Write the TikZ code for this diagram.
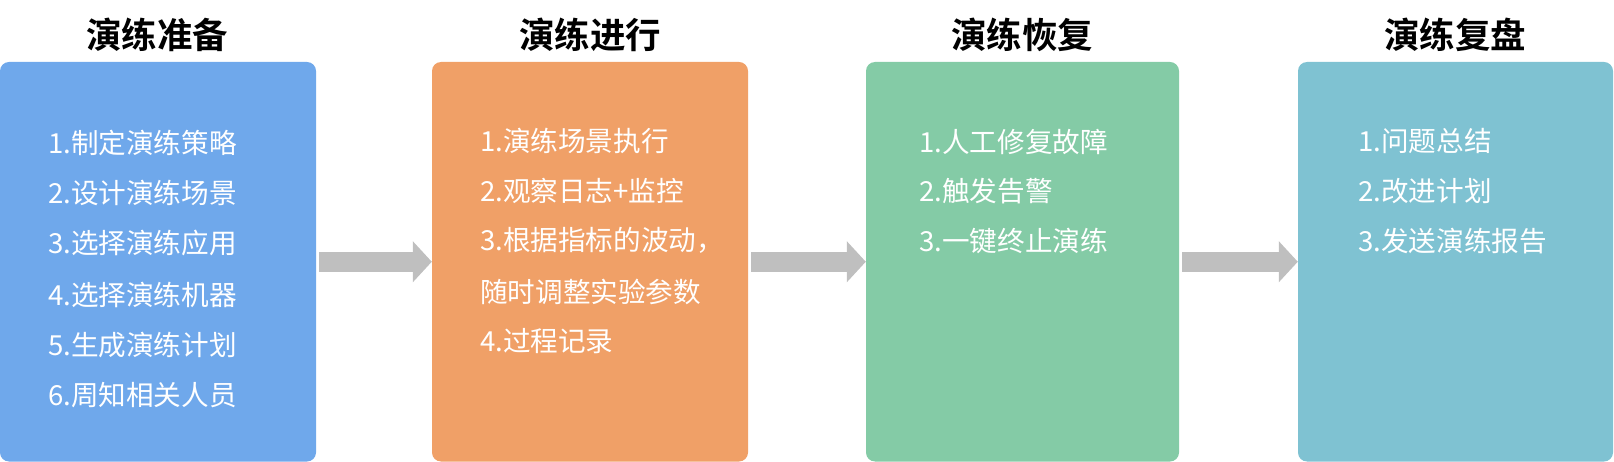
\documentclass[tikz,border=0pt]{standalone}
\usepackage{fontspec}
\newfontfamily\cjk{Noto Sans CJK SC}
\newfontfamily\cjkbold{Noto Sans CJK SC Bold}
\usetikzlibrary{arrows.meta}
\definecolor{cblue}{HTML}{6FA8EB}
\definecolor{corange}{HTML}{F0A067}
\definecolor{cgreen}{HTML}{84CBA6}
\definecolor{cteal}{HTML}{7FC2D2}
\definecolor{cgray}{HTML}{BFBFBF}
\tikzset{
  stagebox/.style={rounded corners=9pt, inner sep=0pt, minimum height=399.5pt},
  stagetitle/.style={font=\cjkbold\fontsize{35.5}{40}\selectfont, text=black, inner sep=0pt},
  item/.style={font=\cjk\fontsize{27.6}{30}\selectfont, text=white, anchor=west, inner sep=0pt},
  flow/.style={draw=cgray, line width=20pt, shorten <=3pt, -{Triangle[length=19pt,width=40pt]}}
}
\begin{document}
\begin{tikzpicture}[x=1pt,y=-1pt]
\useasboundingbox (0,0) rectangle (1614,462);
% boxes
\node[stagebox, fill=cblue,   minimum width=316pt] (b1) at (158,261.75) {};
\node[stagebox, fill=corange, minimum width=316pt] (b2) at (590,261.75) {};
\node[stagebox, fill=cgreen,  minimum width=313pt] (b3) at (1022.5,261.75) {};
\node[stagebox, fill=cteal,   minimum width=315pt] (b4) at (1455.5,261.75) {};
% titles
\node[stagetitle] (t1) at (157,34.5) {演练准备};
\node[stagetitle] (t2) at (590,34.5) {演练进行};
\node[stagetitle] (t3) at (1022,34.5) {演练恢复};
\node[stagetitle] (t4) at (1455,34.5) {演练复盘};
% box 1 items
\node[item] (a1) at (48,142.5) {1.制定演练策略};
\node[item] (a2) at (48,193) {2.设计演练场景};
\node[item] (a3) at (48,243) {3.选择演练应用};
\node[item] (a4) at (48,294.5) {4.选择演练机器};
\node[item] (a5) at (48,345) {5.生成演练计划};
\node[item] (a6) at (48,395) {6.周知相关人员};
% box 2 items
\node[item] (p1) at (480,140.5) {1.演练场景执行};
\node[item] (p2) at (480,191) {2.观察日志+监控};
\node[item] (p3) at (480,240.5) {3.根据指标的波动，};
\node[item] (p4) at (480,291.5) {随时调整实验参数};
\node[item] (p5) at (480,341.5) {4.过程记录};
% box 3 items
\node[item] (r1) at (919,141.5) {1.人工修复故障};
\node[item] (r2) at (919,191.5) {2.触发告警};
\node[item] (r3) at (919,241.5) {3.一键终止演练};
% box 4 items
\node[item] (s1) at (1358,141.5) {1.问题总结};
\node[item] (s2) at (1358,191.5) {2.改进计划};
\node[item] (s3) at (1358,241.5) {3.发送演练报告};
% arrows
\draw[flow] (b1.east) -- (b2.west);
\draw[flow] (b2.east) -- (b3.west);
\draw[flow] (b3.east) -- (b4.west);
\end{tikzpicture}
\end{document}
